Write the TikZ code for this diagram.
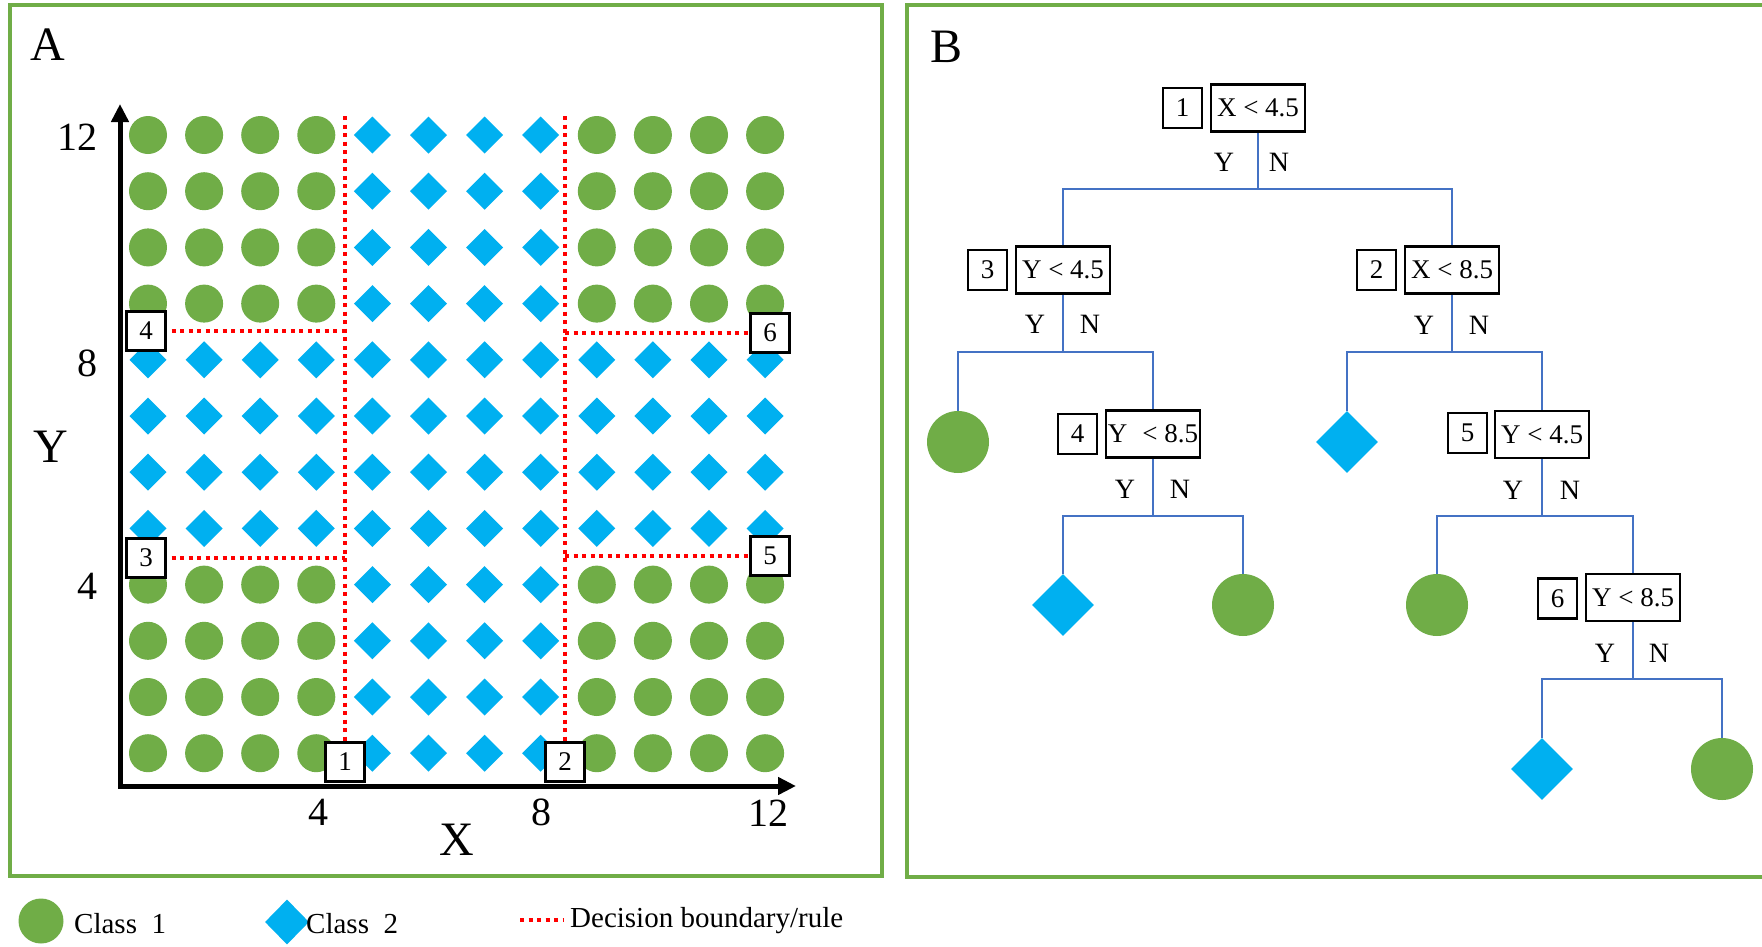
\documentclass[tikz,border=0pt]{standalone}
\usepackage{fontspec}
\setmainfont{Liberation Serif}
\usetikzlibrary{arrows.meta,shapes.geometric,calc}
\definecolor{cgreen}{HTML}{70AD47}
\definecolor{cblue}{HTML}{00B0F0}
\definecolor{tblue}{HTML}{4472C4}
\definecolor{cred}{HTML}{FF0000}
\begin{document}
\begin{tikzpicture}[x=1pt,y=-1pt,
  panel/.style={draw=cgreen,line width=4pt},
  boundary/.style={draw=cred,line width=3.6pt,dash pattern=on 4pt off 4.5pt},
  numbox/.style={draw=black,fill=white,line width=2.6pt,minimum width=39pt,minimum height=39pt,inner sep=0pt,font=\fontsize{27}{27}\selectfont},
  condbox/.style={draw=black,fill=white,line width=2.5pt,minimum width=94pt,minimum height=47pt,inner sep=0pt,font=\fontsize{27}{27}\selectfont},
  tnum/.style={draw=black,fill=white,line width=2.5pt,minimum width=39pt,minimum height=40pt,inner sep=0pt,font=\fontsize{27}{27}\selectfont},
  leafc/.style={circle,fill=cgreen,minimum size=62pt,inner sep=0pt},
  leafd/.style={diamond,fill=cblue,minimum width=62pt,minimum height=62pt,inner sep=0pt},
  yn/.style={font=\fontsize{28}{28}\selectfont,inner sep=0pt},
  tline/.style={draw=tblue,line width=2.8pt},
  tick/.style={font=\fontsize{40}{40}\selectfont,inner sep=0pt},
  big/.style={font=\fontsize{48}{48}\selectfont,inner sep=0pt},
  legtext/.style={font=\fontsize{29}{29}\selectfont,inner sep=0pt,anchor=base west}
]
\useasboundingbox (0,0) rectangle (1762,946);
\fill[white] (0,0) rectangle (1762,946);

% panels
\draw[panel] (10,5) rectangle (882,876);
\draw[panel] (1770,5) -- (907,5) -- (907,877) -- (1770,877);

\node[big] (lA) at (48,45) {A};
\node[big] (lB) at (946,47) {B};

% data points
\foreach \i in {1,2,3,4,9,10,11,12}{
  \foreach \j in {1,2,3,4,9,10,11,12}{
    \fill[cgreen] ({148+(\i-1)*56.1},{135+(12-\j)*56.2}) circle[radius=19pt];
  }}
\foreach \i in {5,6,7,8}{
  \foreach \j in {1,...,12}{
    \fill[cblue] ({148+(\i-1)*56.1},{135+(12-\j)*56.2}) +(-18.5,0) -- +(0,-18.5) -- +(18.5,0) -- +(0,18.5) -- cycle;
  }}
\foreach \i in {1,2,3,4,9,10,11,12}{
  \foreach \j in {5,6,7,8}{
    \fill[cblue] ({148+(\i-1)*56.1},{135+(12-\j)*56.2}) +(-18.5,0) -- +(0,-18.5) -- +(18.5,0) -- +(0,18.5) -- cycle;
  }}

% axes
\coordinate (ytip) at (120,104);
\coordinate (orig) at (120,786);
\coordinate (xtip) at (796,786);
\draw[line width=5pt,{Triangle[length=18pt,width=17pt]}-{Triangle[length=18pt,width=17pt]}] (ytip) -- (orig) -- (xtip);
\node[tick,anchor=east] (y12) at (98,137) {12};
\node[tick,anchor=east] (y8) at (98,363) {8};
\node[tick,anchor=east] (y4) at (98,586) {4};
\node[tick] (x4) at (318,812) {4};
\node[tick] (x8) at (541,812) {8};
\node[tick] (x12) at (768,813) {12};
\node[big] (xl) at (457,840) {X};
\node[big] (yl) at (51,447) {Y};

% decision boundaries
\coordinate (v1t) at (345,116);
\coordinate (v2t) at (565,116);
\coordinate (p1) at (345,762);
\coordinate (p2) at (565,762);
\coordinate (p3) at (146,558);
\coordinate (p4) at (146,331);
\coordinate (p5) at (770,556);
\coordinate (p6) at (770,333);
\draw[boundary] (v1t) -- (p1);
\draw[boundary] (v2t) -- (p2);
\draw[boundary] (p4) -- (p4 -| p1);
\draw[boundary] (p3) -- (p3 -| p1);
\draw[boundary] (p6 -| p2) -- (p6);
\draw[boundary] (p5 -| p2) -- (p5);
\node[numbox] (r1) at (p1) {1};
\node[numbox] (r2) at (p2) {2};
\node[numbox] (r3) at (p3) {3};
\node[numbox] (r4) at (p4) {4};
\node[numbox] (r5) at (p5) {5};
\node[numbox] (r6) at (p6) {6};

% tree
\node[condbox] (c1) at (1258,108) {X < 4.5};
\node[tnum] (n1) at (1182.5,108) {1};
\node[condbox] (c3) at (1063,270) {Y < 4.5};
\node[tnum] (n3) at (987.5,270) {3};
\node[condbox] (c2) at (1452,270) {X < 8.5};
\node[tnum] (n2) at (1376.5,270) {2};
\node[condbox] (c4) at (1153,434) {Y\hspace{0.3em} < 8.5};
\node[tnum] (n4) at (1077.5,434) {4};
\node[condbox] (c5) at (1542,434.5) {Y < 4.5};
\node[tnum] (n5) at (1467.5,433) {5};
\node[condbox] (c6) at (1633,597.5) {Y < 8.5};
\node[tnum] (n6) at (1557.5,598.5) {6};

\node[leafc] (l1) at (958,442) {};
\node[leafd] (l2) at (1347,442) {};
\node[leafd] (l3) at (1063,605) {};
\node[leafc] (l4) at (1243,605) {};
\node[leafc] (l5) at (1437,605) {};
\node[leafd] (l6) at (1542,769) {};
\node[leafc] (l7) at (1722,769) {};

\coordinate (b1) at (1258,189);
\coordinate (b3) at (1063,352);
\coordinate (b2) at (1452,352);
\coordinate (b4) at (1153,516);
\coordinate (b5) at (1542,516);
\coordinate (b6) at (1633,679);

\draw[tline] (c1.south) -- (b1);
\draw[tline] (c3.north) |- (b1) -| (c2.north);
\draw[tline] (c3.south) -- (b3);
\draw[tline] (l1.north) |- (b3) -| (c4.north);
\draw[tline] (c2.south) -- (b2);
\draw[tline] (l2.north) |- (b2) -| (c5.north);
\draw[tline] (c4.south) -- (b4);
\draw[tline] (l3.north) |- (b4) -| (l4.north);
\draw[tline] (c5.south) -- (b5);
\draw[tline] (l5.north) |- (b5) -| (c6.north);
\draw[tline] (c6.south) -- (b6);
\draw[tline] (l6.north) |- (b6) -| (l7.north);

\node[yn] (y1) at ($(b1)+(-34,-27)$) {Y};
\node[yn] (m1) at ($(b1)+(21,-27)$) {N};
\node[yn] (y3) at ($(b3)+(-28,-28)$) {Y};
\node[yn] (m3) at ($(b3)+(27,-28)$) {N};
\node[yn] (y2) at ($(b2)+(-28,-27)$) {Y};
\node[yn] (m2) at ($(b2)+(27,-27)$) {N};
\node[yn] (y4) at ($(b4)+(-28,-27)$) {Y};
\node[yn] (m4) at ($(b4)+(27,-27)$) {N};
\node[yn] (y5) at ($(b5)+(-29,-26)$) {Y};
\node[yn] (m5) at ($(b5)+(28,-26)$) {N};
\node[yn] (y6) at ($(b6)+(-28,-26)$) {Y};
\node[yn] (m6) at ($(b6)+(26,-26)$) {N};

% legend
\node[circle,fill=cgreen,minimum size=45pt,inner sep=0pt] (lg1) at (41,921) {};
\node[legtext] (lt1) at (74,933) {Class\ \ 1};
\node[diamond,fill=cblue,minimum width=44pt,minimum height=45pt,inner sep=0pt] (lg2) at (287,922) {};
\node[legtext] (lt2) at (306,933) {Class\ \ 2};
\coordinate (lr1) at (520,920);
\coordinate (lr2) at (563,920);
\draw[boundary] (lr1) -- (lr2);
\node[legtext] (lt3) at (570,927) {Decision boundary/rule};
\end{tikzpicture}
\end{document}
